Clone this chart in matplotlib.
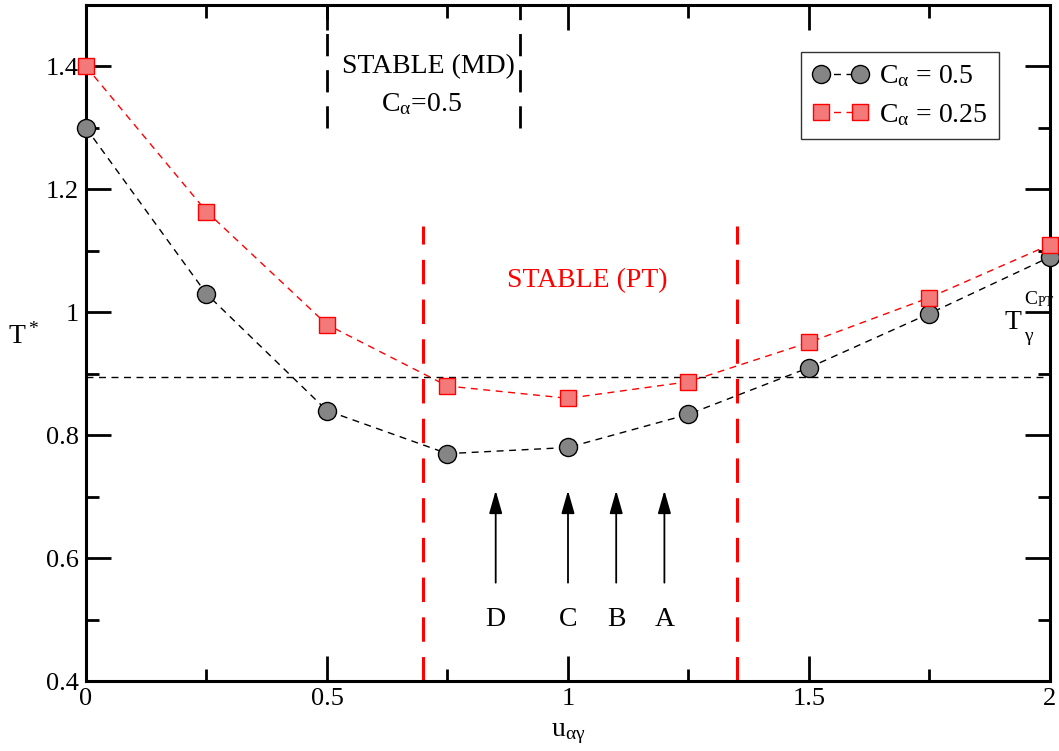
import numpy as np
import matplotlib
matplotlib.use('Agg')
import matplotlib.pyplot as plt
from matplotlib.ticker import MultipleLocator

plt.rcParams['font.family'] = ['Liberation Serif', 'DejaVu Serif']
plt.rcParams['mathtext.fontset'] = 'custom'
plt.rcParams['mathtext.rm'] = 'Liberation Serif'
plt.rcParams['mathtext.it'] = 'Liberation Serif'
plt.rcParams['mathtext.bf'] = 'Liberation Serif:bold'

# data
u_vals = [0, 0.25, 0.5, 0.75, 1.0, 1.25, 1.5, 1.75, 2.0]
t_c05 = [1.30, 1.03, 0.84, 0.77, 0.78, 0.834, 0.91, 0.998, 1.09]
t_c025 = [1.40, 1.164, 0.98, 0.88, 0.86, 0.887, 0.951, 1.024, 1.11]

t_gamma_cpt = 0.895
pt_bounds = [0.7, 1.35]
pt_top = 1.14
md_bounds = [0.5, 0.9]
md_bottom = 1.3
arrow_x = [0.85, 1.0, 1.1, 1.2]
arrow_labels = ['D', 'C', 'B', 'A']

x_ticks = [0, 0.5, 1, 1.5, 2]
x_ticklabels = ['0', '0.5', '1', '1.5', '2']
y_ticks = [0.4, 0.6, 0.8, 1.0, 1.2, 1.4]
y_ticklabels = ['0.4', '0.6', '0.8', '1', '1.2', '1.4']

fs = 20

fig = plt.figure(figsize=(10.59, 7.51), dpi=100)
ax = fig.add_axes([0.0812, 0.0932, 0.9103, 0.9001])

ax.axhline(t_gamma_cpt, color='black', ls=(0, (5, 4)), lw=1.0, zorder=1)
for xb in pt_bounds:
    ax.plot([xb, xb], [0.4, pt_top], color='red', ls=(0, (8, 5)), lw=2.2, zorder=1)
for xb in md_bounds:
    ax.plot([xb, xb], [md_bottom, 1.5], color='black', ls=(0, (8, 5)), lw=2.0, zorder=1)

ax.plot(u_vals, t_c05, ls=(0, (5, 4)), lw=1.0, color='black', marker='o',
        markersize=13, markerfacecolor='#858585', markeredgecolor='black',
        markeredgewidth=1.0, label=r'C$_\alpha$ = 0.5', zorder=3, clip_on=False)
ax.plot(u_vals, t_c025, ls=(0, (5, 4)), lw=1.0, color='red', marker='s',
        markersize=12, markerfacecolor='#f47a7a', markeredgecolor='red',
        markeredgewidth=1.0, label=r'C$_\alpha$ = 0.25', zorder=3, clip_on=False)

for xa, lab in zip(arrow_x, arrow_labels):
    ax.annotate('', xy=(xa, 0.71), xytext=(xa, 0.56),
                arrowprops=dict(arrowstyle='-|>,head_length=0.7,head_width=0.2',
                                color='black', lw=1.3, mutation_scale=20,
                                shrinkA=0, shrinkB=0))
    ax.text(xa, 0.5, lab, ha='center', va='center', fontsize=fs)

ax.text(0.711, 1.40, 'STABLE (MD)', ha='center', va='center', fontsize=fs)
ax.text(0.695, 1.338, r'C$_\alpha$=0.5', ha='center', va='center', fontsize=fs)
ax.text(1.04, 1.052, 'STABLE (PT)', ha='center', va='center', fontsize=fs, color='red')

# T_gamma^{C_PT} label, built from pieces
ax.text(1.924, 0.984, 'T', ha='center', va='center', fontsize=fs, zorder=5)
ax.text(1.956, 0.957, r'$\gamma$', ha='center', va='center', fontsize=14, zorder=5)
ax.text(1.978, 1.022, r'C$_{\mathregular{PT}}$', ha='center', va='center',
        fontsize=14, zorder=5)

ax.set_xlim(0, 2)
ax.set_ylim(0.4, 1.5)
ax.set_xticks(x_ticks)
ax.set_xticklabels(x_ticklabels)
ax.set_yticks(y_ticks)
ax.set_yticklabels(y_ticklabels)
ax.xaxis.set_minor_locator(MultipleLocator(0.25))
ax.yaxis.set_minor_locator(MultipleLocator(0.1))
ax.tick_params(which='both', direction='in', top=True, right=True,
               labelsize=19, width=2.0, pad=5)
ax.tick_params(which='major', length=18)
ax.tick_params(which='minor', length=9)
for sp in ax.spines.values():
    sp.set_linewidth(2.2)

ax.set_xlabel(r'u$_{\alpha\gamma}$', fontsize=fs, labelpad=8)
ax.set_ylabel(r'T$^*$', fontsize=fs, rotation=0)
ax.yaxis.set_label_coords(-0.065, 0.49)

leg = ax.legend(loc='upper right', bbox_to_anchor=(0.947, 0.93), fontsize=fs,
                numpoints=2, frameon=True, fancybox=False, edgecolor='black',
                handlelength=2.0, handletextpad=0.4, borderpad=0.4,
                labelspacing=0.45, borderaxespad=0)
leg.get_frame().set_linewidth(1.0)

fig.savefig('out.png', dpi=100)
